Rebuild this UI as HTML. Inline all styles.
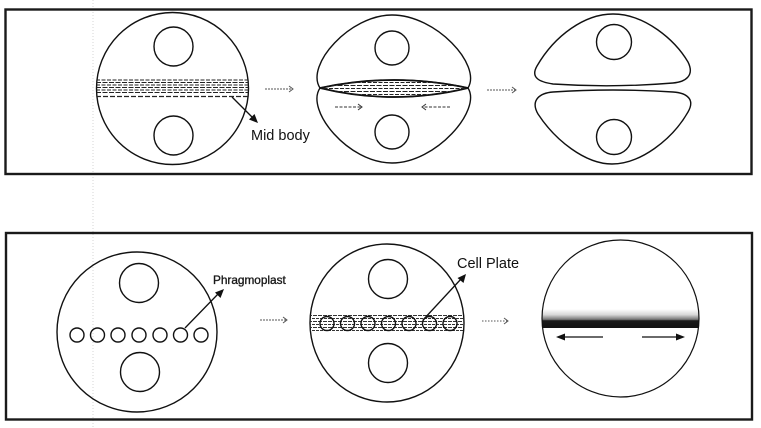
<!DOCTYPE html>
<html>
<head>
<meta charset="utf-8">
<style>
html,body{margin:0;padding:0;background:#fff;}
svg{display:block;}
text{font-family:"Liberation Sans",Arial,sans-serif;fill:#111;}
</style>
</head>
<body>
<svg width="761" height="428" viewBox="0 0 761 428" xmlns="http://www.w3.org/2000/svg">
<defs>
  <clipPath id="c1"><circle cx="172.5" cy="88.5" r="76"/></clipPath>
  <clipPath id="c5"><ellipse cx="387" cy="323" rx="77" ry="79"/></clipPath>
  <clipPath id="c6"><circle cx="620.5" cy="318.5" r="78.5"/></clipPath>
  <clipPath id="lens"><path d="M320,88 Q394,72 468,88 Q394,106 320,88 Z"/></clipPath>
  <linearGradient id="g6" x1="0" y1="0" x2="0" y2="1">
    <stop offset="0" stop-color="#fff"/>
    <stop offset="0.3" stop-color="#d8d8d8"/>
    <stop offset="0.55" stop-color="#777"/>
    <stop offset="0.62" stop-color="#1a1a1a"/>
    <stop offset="1" stop-color="#111"/>
  </linearGradient>
</defs>

<rect width="761" height="428" fill="#fff"/>

<line x1="93" y1="0" x2="93" y2="428" stroke="#d4d4d4" stroke-width="1" stroke-dasharray="1,2"/>

<rect x="5.5" y="9.5" width="746" height="164.5" fill="none" stroke="#1a1a1a" stroke-width="2.4"/>
<rect x="6" y="233" width="746" height="186.5" fill="none" stroke="#1a1a1a" stroke-width="2.4"/>

<g fill="none" stroke="#111" stroke-width="1.4">
  <!-- cell 1 -->
  <circle cx="172.5" cy="88.5" r="76"/>
  <circle cx="173.5" cy="46.5" r="19.5"/>
  <circle cx="173.5" cy="135.5" r="19.5"/>
  <g clip-path="url(#c1)" stroke-width="1" stroke="#222">
    <line x1="96" y1="80" x2="250" y2="80" stroke-dasharray="4,1.5"/>
    <line x1="96" y1="82.5" x2="250" y2="82.5" stroke-dasharray="5,1.5"/>
    <line x1="96" y1="85" x2="250" y2="85" stroke-dasharray="4,1.5"/>
    <line x1="96" y1="87.5" x2="250" y2="87.5" stroke-dasharray="5,1.5"/>
    <line x1="96" y1="90" x2="250" y2="90" stroke-dasharray="4,1.5"/>
    <line x1="96" y1="92.5" x2="250" y2="92.5" stroke-dasharray="5,1.5"/>
    <line x1="96" y1="96.5" x2="250" y2="96.5" stroke-dasharray="5,2" stroke-width="1.3"/>
  </g>
  <line x1="232" y1="97" x2="254" y2="119" stroke-width="1.3"/>

  <!-- cell 2 -->
  <path d="M320,88 C305,65 350,15 392,15 C436,15 482,65 468,88 Q394,72 320,88 Z"/>
  <path d="M320,88 Q394,106 468,88 C482,110 436,163 392,163 C348,163 305,110 320,88 Z"/>
  <path d="M320,88 Q394,72 468,88 Q394,106 320,88 Z" stroke-width="1.8"/>
  <g clip-path="url(#lens)" stroke-width="1" stroke="#222">
    <line x1="318" y1="82.5" x2="470" y2="82.5" stroke-dasharray="4,1.5"/>
    <line x1="318" y1="85.5" x2="470" y2="85.5" stroke-dasharray="5,1.5"/>
    <line x1="318" y1="88.5" x2="470" y2="88.5" stroke-dasharray="4,1.5"/>
    <line x1="318" y1="91.5" x2="470" y2="91.5" stroke-dasharray="5,1.5"/>
    <line x1="318" y1="94.5" x2="470" y2="94.5" stroke-dasharray="4,1.5"/>
  </g>
  <circle cx="392" cy="48" r="17"/>
  <circle cx="392" cy="132" r="17"/>

  <!-- cell 3 -->
  <path d="M553,84 C540,82 530,78 537,66 C555,35 585,14 613,14 C645,14 675,40 688,62 C695,76 685,82 673,83 Q613,88 553,84 Z"/>
  <path d="M553,92 Q613,88 673,92 C688,93 695,100 688,112 C672,140 640,164 612,164 C585,164 555,140 538,114 C530,100 540,93 553,92 Z"/>
  <circle cx="614" cy="42" r="17.5"/>
  <circle cx="614" cy="137" r="17.5"/>

  <!-- cell 4 -->
  <circle cx="137" cy="332" r="80"/>
  <circle cx="139" cy="283" r="19.5"/>
  <circle cx="140" cy="372" r="19.5"/>
  <circle cx="77" cy="335" r="7"/>
  <circle cx="97.5" cy="335" r="7"/>
  <circle cx="118" cy="335" r="7"/>
  <circle cx="139" cy="335" r="7"/>
  <circle cx="160" cy="335" r="7"/>
  <circle cx="180.5" cy="335" r="7"/>
  <circle cx="201" cy="335" r="7"/>
  <line x1="185" y1="328" x2="219" y2="293" stroke-width="1.3"/>

  <!-- cell 5 -->
  <ellipse cx="387" cy="323" rx="77" ry="79"/>
  <circle cx="388" cy="279" r="19.5"/>
  <circle cx="388" cy="363" r="19.5"/>
  <g clip-path="url(#c5)" stroke-width="0.9" stroke="#333">
    <line x1="308" y1="315.5" x2="463" y2="315.5" stroke-dasharray="4,1"/>
    <line x1="308" y1="318.5" x2="463" y2="318.5" stroke-dasharray="3,1"/>
    <line x1="308" y1="321.5" x2="463" y2="321.5" stroke-dasharray="4,1"/>
    <line x1="308" y1="324.5" x2="463" y2="324.5" stroke-dasharray="3,1"/>
    <line x1="308" y1="327.5" x2="463" y2="327.5" stroke-dasharray="4,1"/>
    <line x1="308" y1="330.5" x2="463" y2="330.5" stroke-dasharray="3,1"/>
  </g>
  <circle cx="327" cy="323.5" r="7"/>
  <circle cx="347.5" cy="323.5" r="7"/>
  <circle cx="368" cy="323.5" r="7"/>
  <circle cx="388.5" cy="323.5" r="7"/>
  <circle cx="409" cy="323.5" r="7"/>
  <circle cx="429.5" cy="323.5" r="7"/>
  <circle cx="450" cy="323.5" r="7"/>
  <line x1="423" y1="320" x2="461" y2="279" stroke-width="1.3"/>

  <!-- cell 6 -->
  <g clip-path="url(#c6)">
    <rect x="540" y="309" width="162" height="19" fill="url(#g6)" stroke="none"/>
  </g>
  <circle cx="620.5" cy="318.5" r="78.5" stroke-width="1.2"/>
  <line x1="603" y1="337" x2="563" y2="337" stroke-width="1.3"/>
  <line x1="642" y1="337" x2="678" y2="337" stroke-width="1.3"/>
</g>

<g fill="#111" stroke="none">
  <polygon points="258,123 249,119.5 254.5,114"/>
  <polygon points="224,289 220.5,298 215,292.5"/>
  <polygon points="466,274 463.5,283 457.5,278"/>
  <polygon points="556,337 565,333.5 565,340.5"/>
  <polygon points="685,337 676,333.5 676,340.5"/>
</g>

<g fill="none" stroke="#555" stroke-width="1">
  <line x1="265" y1="89" x2="292" y2="89" stroke-dasharray="2,1"/>
  <polyline points="289,86 293,89 289,92"/>
  <line x1="487" y1="90" x2="515" y2="90" stroke-dasharray="2,1"/>
  <polyline points="512,87 516,90 512,93"/>
  <line x1="260" y1="320" x2="286" y2="320" stroke-dasharray="2,1"/>
  <polyline points="283,317 287,320 283,323"/>
  <line x1="482" y1="321" x2="507" y2="321" stroke-dasharray="1.5,1.5"/>
  <polyline points="504,318 508,321 504,324"/>
  <line x1="335" y1="107" x2="361" y2="107" stroke-dasharray="3,1.5" stroke="#333"/>
  <polyline points="358,104 362,107 358,110" stroke="#333"/>
  <line x1="450" y1="107" x2="423" y2="107" stroke-dasharray="3,1.5" stroke="#333"/>
  <polyline points="426,104 422,107 426,110" stroke="#333"/>
</g>

<text x="251" y="140" font-size="14.5">Mid body</text>
<text x="213" y="284" font-size="11.8" style="fill:#1a1a1a;stroke:#1a1a1a;stroke-width:0.35">Phragmoplast</text>
<text x="457" y="268" font-size="14.5">Cell Plate</text>
</svg>
</body>
</html>
